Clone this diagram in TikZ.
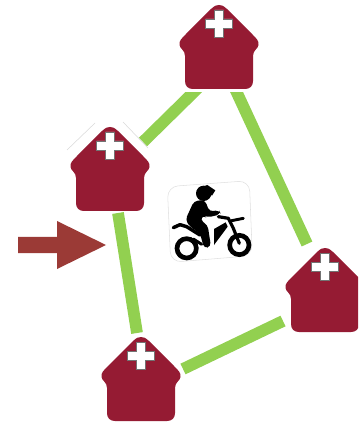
\documentclass[tikz,border=0pt]{standalone}
\begin{document}
\begin{tikzpicture}[x=0.75pt,y=-0.75pt,
  link/.style={draw=linkgreen,line width=8.8pt},
  housemark/.style={inner sep=0pt,minimum size=60pt},
  bikeline/.style={line cap=round,line join=round}]
\definecolor{linkgreen}{HTML}{92D050}
\definecolor{housered}{HTML}{951B33}
\definecolor{arrowred}{HTML}{9B3A36}
\path[use as bounding box] (0,0) rectangle (358,423);
\tikzset{pics/hospital/.style={code={
  \fill[housered] (-8,4) .. controls (-4,0.5) and (-2.5,0) .. (0,0) .. controls (2.5,0) and (4,0.5) .. (8,4) -- (33,29) .. controls (38,34) and (40,36) .. (39.5,40) .. controls (39,44) and (34,45) .. (34,51) -- (34,76) .. controls (34,81) and (31,84) .. (26,84) -- (-26,84) .. controls (-31,84) and (-34,81) .. (-34,76) -- (-34,51) .. controls (-34,45) and (-39,44) .. (-39.5,40) .. controls (-40,36) and (-38,34) .. (-33,29) -- cycle;
  \fill[white,draw=black!55,line width=0.3pt] (-4.5,5) -- (4.5,5) -- (4.5,14) -- (13.5,14) -- (13.5,23) -- (4.5,23) -- (4.5,32) -- (-4.5,32) -- (-4.5,23) -- (-13.5,23) -- (-13.5,14) -- (-4.5,14) -- cycle;
}}}
% connector ends
\coordinate (tl1) at (203,83); \coordinate (tl2) at (143,142);
\coordinate (tr1) at (232.4,83); \coordinate (tr2) at (307,244);
\coordinate (lb1) at (118,213); \coordinate (lb2) at (137,333);
\coordinate (rb1) at (283,321); \coordinate (rb2) at (183,369);
\begin{scope}
\clip (0,93) rectangle (358,423);
\draw[link] (tl1) -- (tl2);
\draw[link] (tr1) -- (tr2);
\end{scope}
\draw[link] (lb1) -- (lb2);
\draw[link] (rb1) -- (rb2);
% faint roof outline of the left house
\draw[gray!30,line width=0.4pt] (95,123) -- (67,150) (123,122) -- (148,148);
% houses
\pic at (219,5) {hospital};
\pic at (110,127) {hospital};
\pic at (141,337) {hospital};
\begin{scope}
\clip (0,0) rectangle (358,423);
\pic at (325,248) {hospital};
\end{scope}
\node[housemark] (top) at (219,48) {};
\node[housemark] (left) at (110,169) {};
\node[housemark] (bottom) at (141,380) {};
\node[housemark] (right) at (325,291) {};
% arrow
\fill[arrowred] (18,237) -- (57,237) -- (57,221) -- (106,245) -- (57,269) -- (57,253) -- (18,253) -- cycle;
% motorcycle
\begin{scope}[shift={(150,165)},x=0.25pt,y=-0.25pt]
\draw[gray!25,line width=0.4pt,rounded corners=8pt] (52,65) -- (298,47) -- (307,272) -- (62,292) -- cycle;
\draw[black,line width=3.5pt] (110,250) circle (29);
\draw[black,line width=3.5pt] (268,240) circle (29);
\fill (161,85) circle (23);
\fill (150,68) -- (172,60) -- (196,76) -- (186,92) -- cycle;
\fill[rounded corners=3pt] (132,108) -- (165,105) -- (178,140) -- (208,135) -- (212,148) -- (170,158) -- (160,150) -- (150,165) -- (173,180) -- (183,245) -- (162,250) -- (150,205) -- (120,185) -- (106,165) -- cycle;
\fill (192,192) -- (227,172) -- (233,185) -- (192,240) -- cycle;
\draw[bikeline,line width=2.6pt] (70,188) -- (90,179) -- (110,185) -- (150,210);
\draw[bikeline,line width=2.4pt] (205,155) -- (235,160) -- (250,190) -- (268,235);
\draw[bikeline,line width=2.2pt] (245,167) -- (280,160);
\draw[bikeline,line width=2.2pt] (130,222) -- (155,238);
\end{scope}
\end{tikzpicture}
\end{document}
